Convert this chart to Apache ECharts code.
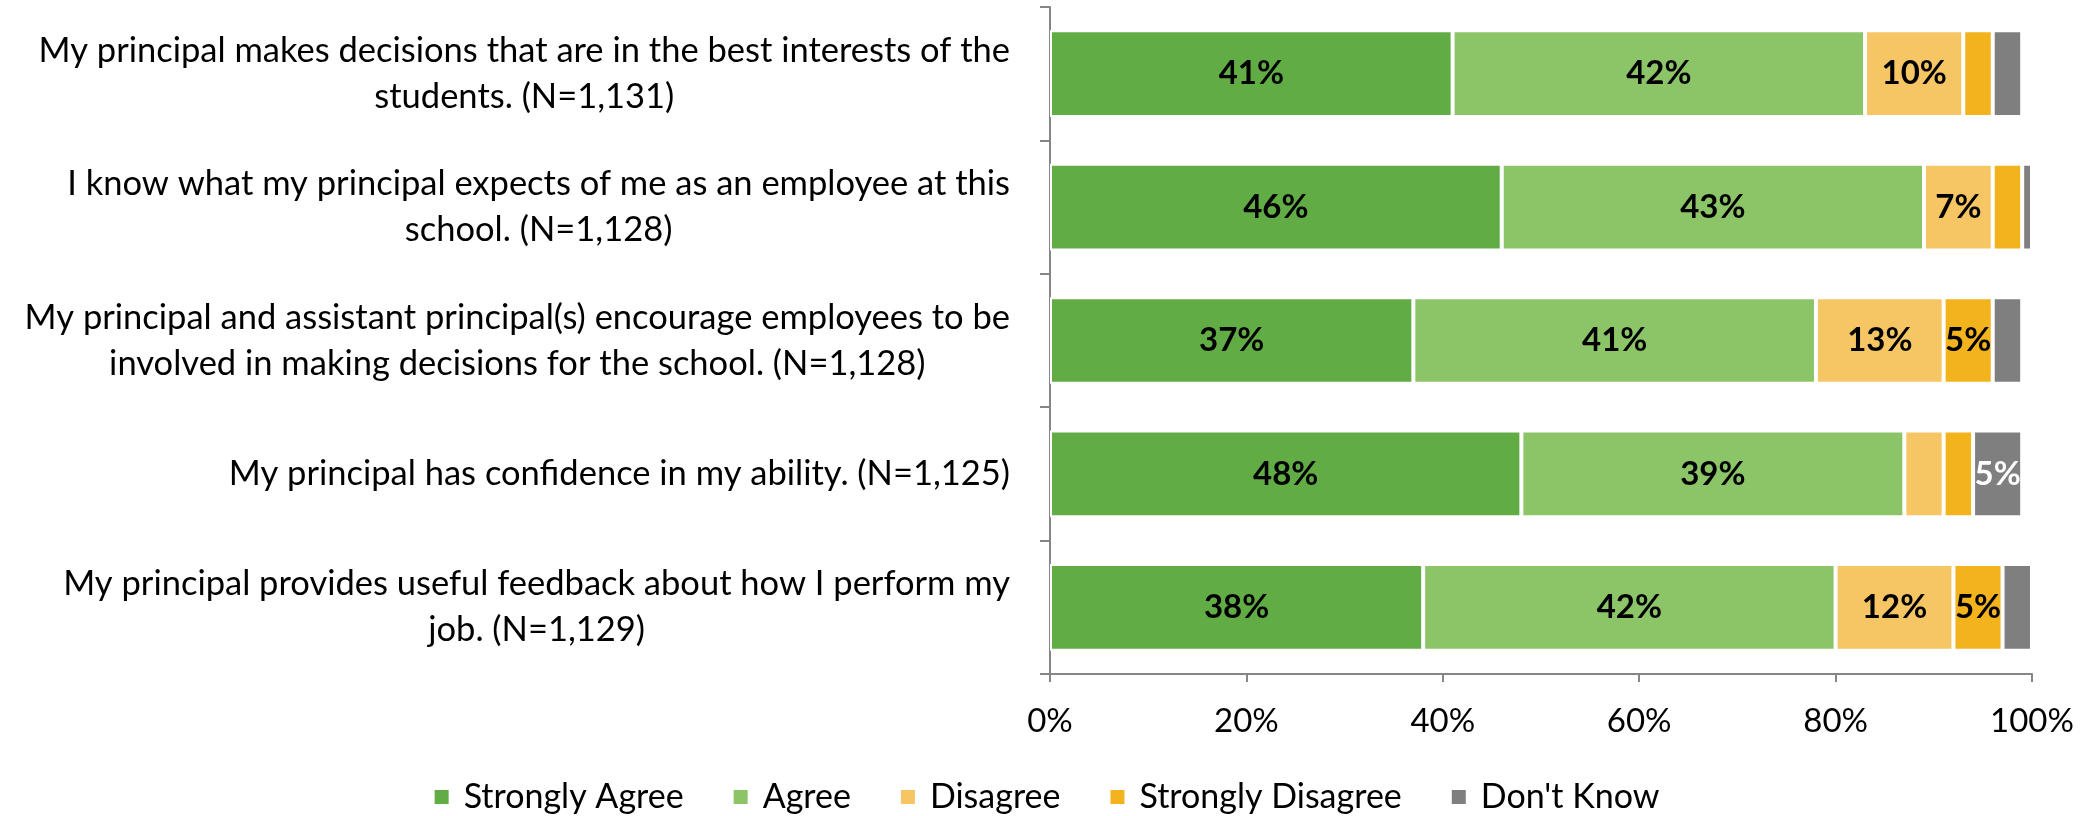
<!DOCTYPE html>
<html>
<head>
<meta charset="utf-8">
<script src="https://cdn.jsdelivr.net/npm/echarts@6/dist/echarts.min.js"></script>
<style>
  html, body { margin: 0; padding: 0; background: #fff; }
  #chart { width: 2092px; height: 816px; }
</style>
</head>
<body>
<div id="chart"></div>
<script>
// Survey statements (top to bottom)
const categories = [
  'My principal makes decisions that are in the best interests of the\nstudents. (N=1,131)',
  'I know what my principal expects of me as an employee at this\nschool. (N=1,128)',
  'My principal and assistant principal(s) encourage employees to be\ninvolved in making decisions for the school. (N=1,128)',
  'My principal has confidence in my ability. (N=1,125)',
  'My principal provides useful feedback about how I perform my\njob. (N=1,129)'
];

// Response shares, percent
const stronglyAgree    = [41, 46, 37, 48, 38];
const agree            = [42, 43, 41, 39, 42];
const disagree         = [10, 7, 13, 4, 12];
const stronglyDisagree = [3, 3, 5, 3, 5];
const dontKnow         = [3, 1, 3, 5, 3];

const xTicks = [0, 20, 40, 60, 80, 100];

const FONT = 'Lato, "Open Sans", sans-serif';

const seriesDefs = [
  { name: 'Strongly Agree',    data: stronglyAgree,    color: '#62AC46', labelColor: '#000' },
  { name: 'Agree',             data: agree,            color: '#8CC468', labelColor: '#000' },
  { name: 'Disagree',          data: disagree,         color: '#F6C564', labelColor: '#000' },
  { name: 'Strongly Disagree', data: stronglyDisagree, color: '#F2B31C', labelColor: '#000' },
  { name: "Don't Know",        data: dontKnow,         color: '#7F7F7F', labelColor: '#fff' }
];

const chart = echarts.init(document.getElementById('chart'), null, { renderer: 'canvas' });

chart.setOption({
  animation: false,
  backgroundColor: '#fff',
  textStyle: { fontFamily: FONT },
  grid: { left: 1050, right: 60, top: 7, height: 667, containLabel: false },
  legend: {
    bottom: -3,
    left: 'center',
    itemWidth: 16,
    itemHeight: 16,
    itemGap: 48,
    icon: 'rect',
    textStyle: { fontFamily: FONT, fontSize: 34, color: '#000', padding: [0, 0, 0, 9] },
    data: seriesDefs.map(s => s.name)
  },
  xAxis: {
    type: 'value',
    min: xTicks[0],
    max: xTicks[xTicks.length - 1],
    interval: 20,
    splitLine: { show: false },
    axisLine: { show: true, lineStyle: { color: '#868686', width: 2 } },
    axisTick: { show: true, length: 8, lineStyle: { color: '#868686', width: 2 } },
    axisLabel: {
      margin: 31,
      fontFamily: FONT,
      fontSize: 33,
      color: '#000',
      formatter: v => v + '%'
    }
  },
  yAxis: {
    type: 'category',
    inverse: true,
    data: categories,
    axisLine: { show: true, lineStyle: { color: '#868686', width: 2 } },
    axisTick: { show: true, length: 10, lineStyle: { color: '#868686', width: 2 } },
    axisLabel: {
      margin: 40,
      formatter: v => v.split('\n').map(l => '{c|' + l + '}').join('\n'),
      rich: {
        c: { align: 'center', fontFamily: FONT, fontSize: 34.5, color: '#000', lineHeight: 46 }
      }
    }
  },
  series: seriesDefs.map(s => ({
    name: s.name,
    type: 'bar',
    stack: 'total',
    barWidth: '65%',
    data: s.data,
    itemStyle: { color: s.color, borderColor: '#fff', borderWidth: 2 },
    label: {
      show: true,
      position: 'inside',
      fontFamily: FONT,
      fontSize: 33,
      fontWeight: 'bold',
      color: s.labelColor,
      formatter: p => (p.value >= 5 ? p.value + '%' : '')
    }
  }))
});
</script>
</body>
</html>
